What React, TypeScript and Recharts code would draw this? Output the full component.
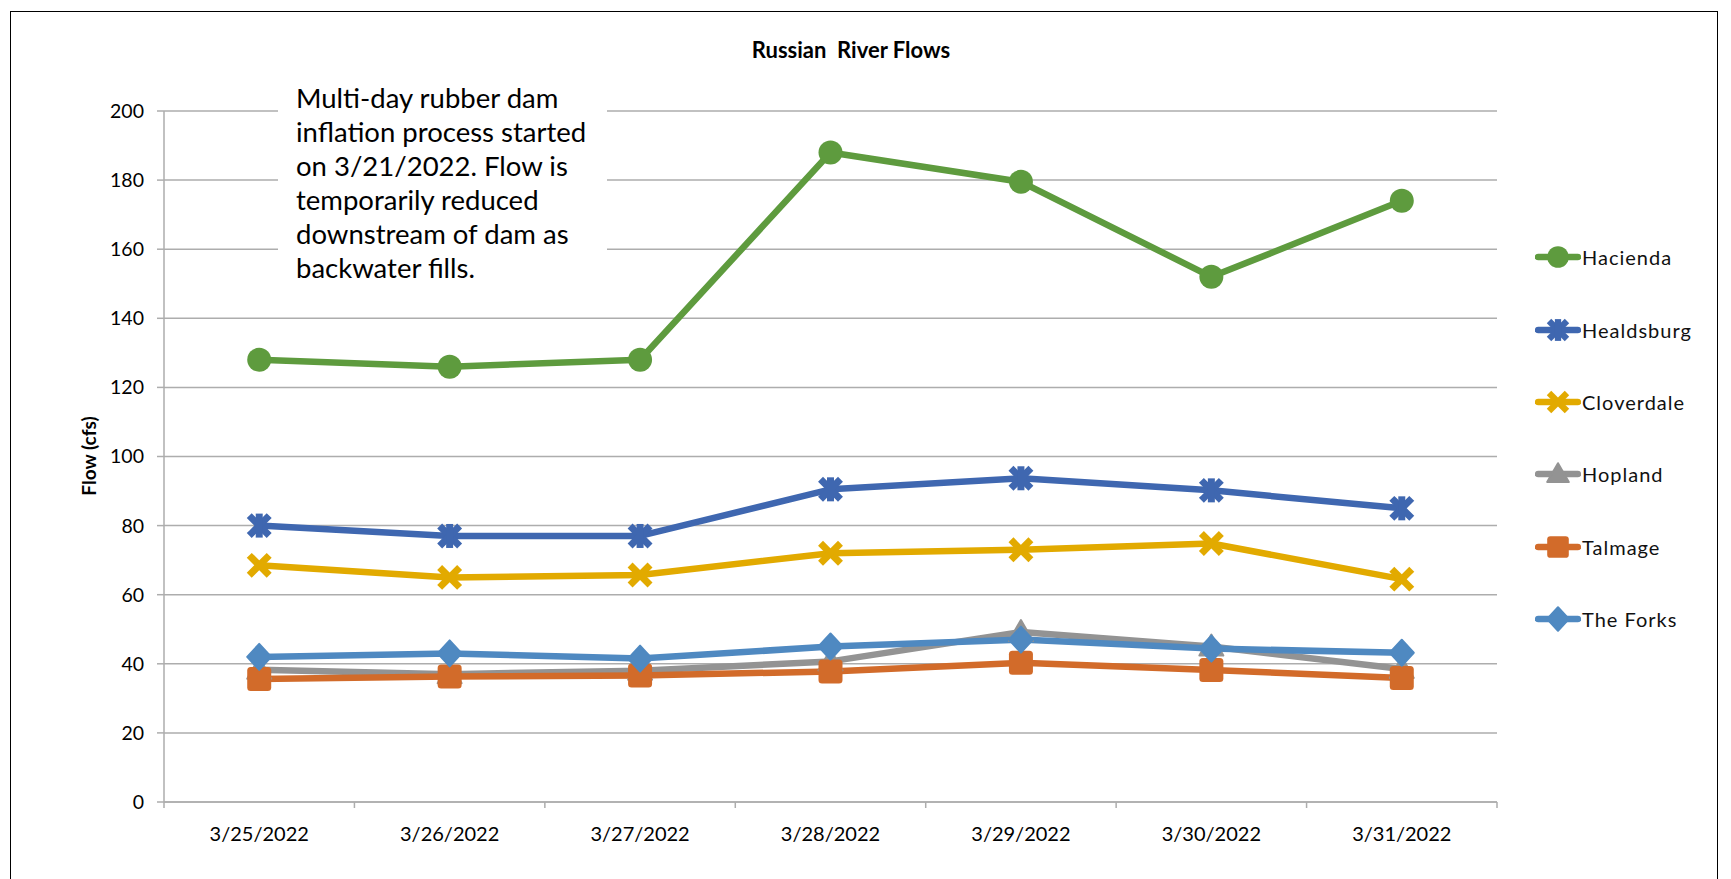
import React from 'react'
import {
  LineChart,
  Line,
  XAxis,
  YAxis,
  CartesianGrid,
} from 'recharts'

const dates = ['3/25/2022', '3/26/2022', '3/27/2022', '3/28/2022', '3/29/2022', '3/30/2022', '3/31/2022']
const hacienda = [128, 126, 128, 188, 179.5, 152, 174]
const healdsburg = [80, 77, 77, 90.5, 93.7, 90.2, 85]
const cloverdale = [68.5, 65, 65.7, 72, 73, 74.8, 64.5]
const hopland = [38.3, 37, 38, 40.7, 49.2, 45, 38.5]
const talmage = [35.6, 36.3, 36.6, 37.8, 40.3, 38.2, 35.9]
const forks = [42, 43, 41.5, 45, 47, 44.4, 43.2]
const yTicks = [0, 20, 40, 60, 80, 100, 120, 140, 160, 180, 200]
// category centres sit on the halves, tick marks on the band edges
const labelPos = [0.5, 1.5, 2.5, 3.5, 4.5, 5.5, 6.5]
const bandEdges = [0, 1, 2, 3, 4, 5, 6, 7]
const xTicks = [...bandEdges, ...labelPos].sort((a, b) => a - b)

const FONT = 'Lato, "Noto Sans", sans-serif'
const GRID = '#ADADAD'

type Shape = 'circle' | 'star' | 'x' | 'triangle' | 'square' | 'diamond'

const seriesList: { key: string; name: string; color: string; shape: Shape; values: number[] }[] = [
  { key: 'hacienda', name: 'Hacienda', color: '#5E9B3E', shape: 'circle', values: hacienda },
  { key: 'healdsburg', name: 'Healdsburg', color: '#3F67B0', shape: 'star', values: healdsburg },
  { key: 'cloverdale', name: 'Cloverdale', color: '#E2AA00', shape: 'x', values: cloverdale },
  { key: 'hopland', name: 'Hopland', color: '#939393', shape: 'triangle', values: hopland },
  { key: 'talmage', name: 'Talmage', color: '#D26B2A', shape: 'square', values: talmage },
  { key: 'forks', name: 'The Forks', color: '#4F89C1', shape: 'diamond', values: forks },
]

const data = dates.map((d, i) => {
  const row: Record<string, number | string> = { x: labelPos[i], date: d }
  seriesList.forEach((s) => {
    row[s.key] = s.values[i]
  })
  return row
})

function Marker({ cx, cy, shape, color, scale = 1 }: { cx: number; cy: number; shape: Shape; color: string; scale?: number }) {
  const r = 12 * scale
  switch (shape) {
    case 'circle':
      return <circle cx={cx} cy={cy} r={r} fill={color} />
    case 'square':
      return <rect x={cx - r} y={cy - r} width={2 * r} height={2 * r} rx={3.5 * scale} fill={color} />
    case 'diamond':
      return (
        <path
          d={`M${cx},${cy - r - 1} L${cx + r},${cy} L${cx},${cy + r + 1} L${cx - r},${cy} Z`}
          fill={color}
          stroke={color}
          strokeWidth={2}
          strokeLinejoin="round"
        />
      )
    case 'triangle':
      return (
        <path
          d={`M${cx},${cy - r} L${cx + r},${cy + r * 0.75} L${cx - r},${cy + r * 0.75} Z`}
          fill={color}
          stroke={color}
          strokeWidth={2}
          strokeLinejoin="round"
        />
      )
    case 'x': {
      const a = 7.5 * scale
      return (
        <g stroke={color} strokeWidth={7 * scale} strokeLinecap="square">
          <line x1={cx - a} y1={cy - a} x2={cx + a} y2={cy + a} />
          <line x1={cx - a} y1={cy + a} x2={cx + a} y2={cy - a} />
        </g>
      )
    }
    case 'star': {
      const a = 7.5 * scale
      return (
        <g stroke={color} strokeWidth={7 * scale} strokeLinecap="square">
          <line x1={cx - a} y1={cy - a} x2={cx + a} y2={cy + a} />
          <line x1={cx - a} y1={cy + a} x2={cx + a} y2={cy - a} />
          <line x1={cx} y1={cy - a - 1} x2={cx} y2={cy + a + 1} />
        </g>
      )
    }
  }
  return null
}

function XTick(props: any) {
  const { x, y, payload } = props
  const v = payload.value as number
  if (Number.isInteger(v)) {
    return <line x1={x} y1={y} x2={x} y2={y + 6} stroke={GRID} strokeWidth={1.5} />
  }
  return (
    <text
      x={x}
      y={y + 31}
      textAnchor="middle"
      dominantBaseline="central"
      fontFamily={FONT}
      fontSize={20}
      fill="#000"
    >
      {dates[labelPos.indexOf(v)]}
    </text>
  )
}

function LegendBox() {
  return (
    <div style={{ fontFamily: FONT, fontSize: 20, color: '#111' }}>
      {seriesList.map((s) => (
        <div key={s.key} style={{ height: 72.4, display: 'flex', alignItems: 'center' }}>
          <svg width={46} height={26} style={{ display: 'block' }}>
            <line x1={3} y1={13} x2={43} y2={13} stroke={s.color} strokeWidth={6.5} strokeLinecap="round" />
            <Marker cx={23} cy={13} shape={s.shape} color={s.color} scale={0.9} />
          </svg>
          <span style={{ marginLeft: 1, letterSpacing: 1 }}>{s.name}</span>
        </div>
      ))}
    </div>
  )
}

export default function App() {
  return (
    <div style={{ position: 'relative', width: 1723, height: 871, overflow: 'hidden', background: '#fff' }}>
      <div
        style={{
          position: 'absolute',
          left: 2,
          top: 3,
          width: 1708,
          height: 900,
          border: '1.5px solid #000',
          boxSizing: 'border-box',
        }}
      />
      <div
        style={{
          position: 'absolute',
          left: 843,
          top: 41,
          transform: 'translate(-50%, -50%)',
          fontFamily: FONT,
          fontWeight: 700,
          fontSize: 22,
          whiteSpace: 'pre',
          color: '#000',
        }}
      >
        {'Russian  River Flows'}
      </div>
      <div style={{ position: 'absolute', left: 0, top: 0 }}>
        <LineChart
          width={1715}
          height={871}
          data={data}
          margin={{ top: 103, right: 226, bottom: 37, left: 96 }}
        >
          <CartesianGrid vertical={false} stroke={GRID} strokeWidth={1.5} />
          <XAxis
            dataKey="x"
            type="number"
            domain={[0, 7]}
            ticks={xTicks}
            tick={<XTick />}
            tickLine={false}
            tickSize={0}
            tickMargin={0}
            axisLine={{ stroke: GRID, strokeWidth: 1.5 }}
            height={40}
            interval={0}
          />
          <YAxis
            domain={[0, 200]}
            ticks={yTicks}
            interval={0}
            width={60}
            axisLine={{ stroke: GRID, strokeWidth: 1.5 }}
            tickLine={{ stroke: GRID, strokeWidth: 1.5 }}
            tickSize={7}
            tickMargin={13}
            tick={{ fontFamily: FONT, fontSize: 19.5, fill: '#000' }}
            label={{
              content: () => (
                <text
                  x={80}
                  y={448}
                  transform="rotate(-90 80 448)"
                  textAnchor="middle"
                  dominantBaseline="central"
                  fontFamily={FONT}
                  fontWeight={700}
                  fontSize={19}
                  fill="#000"
                >
                  Flow (cfs)
                </text>
              ),
            }}
          />
          {seriesList.map((s) => (
            <Line
              key={s.key}
              dataKey={s.key}
              name={s.name}
              stroke={s.color}
              strokeWidth={6.5}
              strokeLinejoin="round"
              isAnimationActive={false}
              dot={(p: any) => (
                <Marker key={`${s.key}-${p.index}`} cx={p.cx} cy={p.cy} shape={s.shape} color={s.color} />
              )}
              activeDot={false}
            />
          ))}
        </LineChart>
      </div>
      <div style={{ position: 'absolute', left: 1527, top: 213, width: 180 }}>
        <LegendBox />
      </div>
      <div
        style={{
          position: 'absolute',
          left: 270,
          top: 73,
          width: 329,
          height: 218,
          background: '#fff',
          boxSizing: 'border-box',
          paddingLeft: 18,
          fontFamily: FONT,
          fontSize: 27.5,
          lineHeight: '34px',
          color: '#000',
          whiteSpace: 'nowrap',
        }}
      >
        Multi-day rubber dam
        <br />
        inflation process started
        <br />
        on 3/21/2022. Flow is
        <br />
        temporarily reduced
        <br />
        downstream of dam as
        <br />
        backwater fills.
      </div>
    </div>
  )
}
